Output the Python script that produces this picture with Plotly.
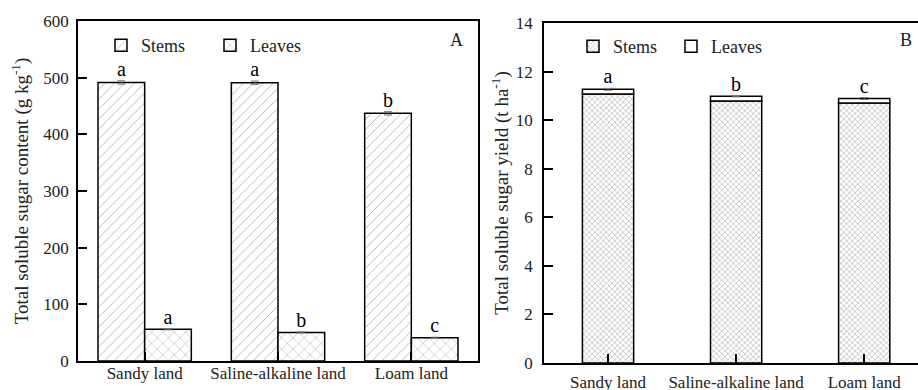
import numpy as np
import plotly.graph_objects as go

categories = ["Sandy land", "Saline-alkaline land", "Loam land"]

# Panel A: total soluble sugar content (g kg-1)
content_stems = [491.5, 491.0, 437.0]
content_stems_err = [3.0, 3.0, 3.0]
content_leaves = [56.0, 50.5, 41.0]
content_leaves_err = [1.0, 1.0, 1.0]
content_stems_letters = ["a", "a", "b"]
content_leaves_letters = ["a", "b", "c"]

# Panel B: total soluble sugar yield (t ha-1)
yield_stems = [11.08, 10.79, 10.71]
yield_leaves = [0.19, 0.19, 0.18]
yield_total_err = [0.04, 0.02, 0.04]
yield_letters = ["a", "b", "c"]

FONT = "Liberation Serif, Times New Roman, serif"
W, H = 918, 390
pos = np.arange(len(categories))
bw_a = 0.35
bw_b = 0.40
TXT = "#222"

fig = go.Figure()

# ---- Panel A ----
fig.add_trace(go.Bar(
    x=pos, y=content_stems, width=bw_a, offset=-bw_a, name="Stems",
    marker=dict(color="white", line=dict(color="black", width=1.5),
                pattern=dict(shape="/", size=7, solidity=0.12, fgcolor="#555", bgcolor="white")),
    error_y=dict(type="data", array=content_stems_err, color="#777", thickness=1, width=4),
    xaxis="x", yaxis="y", legend="legend"))
fig.add_trace(go.Bar(
    x=pos, y=content_leaves, width=bw_a, offset=0, name="Leaves",
    marker=dict(color="white", line=dict(color="black", width=1.5),
                pattern=dict(shape="x", size=8, solidity=0.12, fgcolor="#555", bgcolor="white")),
    error_y=dict(type="data", array=content_leaves_err, color="#777", thickness=1, width=4),
    xaxis="x", yaxis="y", legend="legend"))
fig.add_trace(go.Scatter(
    x=pos - bw_a / 2, y=np.array(content_stems) + np.array(content_stems_err),
    text=content_stems_letters, mode="text", textposition="top center",
    textfont=dict(family=FONT, size=20, color="black"), showlegend=False,
    xaxis="x", yaxis="y"))
fig.add_trace(go.Scatter(
    x=pos + bw_a / 2, y=np.array(content_leaves) + np.array(content_leaves_err),
    text=content_leaves_letters, mode="text", textposition="top center",
    textfont=dict(family=FONT, size=20, color="black"), showlegend=False,
    xaxis="x", yaxis="y"))

# ---- Panel B ----
fig.add_trace(go.Bar(
    x=pos, y=yield_stems, width=bw_b, name="Stems",
    marker=dict(color="white", line=dict(color="black", width=1.5),
                pattern=dict(shape="x", size=4, solidity=0.3, fgcolor="#666", bgcolor="white")),
    xaxis="x2", yaxis="y2", legend="legend2"))
fig.add_trace(go.Bar(
    x=pos, y=yield_leaves, base=yield_stems, width=bw_b, name="Leaves",
    marker=dict(color="white", line=dict(color="black", width=1.5)),
    error_y=dict(type="data", array=yield_total_err, color="#777", thickness=1, width=4),
    xaxis="x2", yaxis="y2", legend="legend2"))
tot = np.array(yield_stems) + np.array(yield_leaves) + np.array(yield_total_err)
fig.add_trace(go.Scatter(
    x=pos, y=tot, text=yield_letters, mode="text", textposition="top center",
    textfont=dict(family=FONT, size=20, color="black"), showlegend=False,
    xaxis="x2", yaxis="y2"))

axis_common = dict(showgrid=False, zeroline=False, showline=True, linecolor="black",
                   linewidth=1.5, ticks="inside", ticklen=9, tickwidth=1.5, tickcolor="black",
                   automargin=False,
                   tickfont=dict(family=FONT, size=17, color=TXT))

fig.update_layout(
    width=W, height=H, margin=dict(l=0, r=0, t=0, b=0, autoexpand=False),
    paper_bgcolor="white", plot_bgcolor="white",
    barmode="overlay",
    font=dict(family=FONT, size=17, color="black"),
    xaxis=dict(domain=[78 / W, 478 / W], range=[-0.5, 2.5], tickvals=pos, ticktext=categories,
               mirror=True, anchor="y", ticklabelstandoff=-4, **axis_common),
    yaxis=dict(domain=[(H - 361) / H, (H - 21) / H], range=[0, 600], dtick=100, mirror=True,
               anchor="x", ticklabelstandoff=4,
               title=dict(text="Total soluble sugar content (g kg<sup>-1</sup>)",
                          font=dict(family=FONT, size=19, color=TXT), standoff=10),
               **axis_common),
    xaxis2=dict(domain=[544 / W, 1.0], range=[-0.5, 2.42], tickvals=pos, ticktext=categories,
                mirror=True, anchor="y2", ticklabelstandoff=3, **axis_common),
    yaxis2=dict(domain=[(H - 363) / H, (H - 23) / H], range=[0, 14], dtick=2, mirror=False,
                anchor="x2", ticklabelstandoff=6,
                title=dict(text="Total soluble sugar yield (t ha<sup>-1</sup>)",
                           font=dict(family=FONT, size=19, color=TXT), standoff=2),
                **axis_common),
    legend=dict(orientation="h", x=101 / W, y=1 - 27 / H, xanchor="left", yanchor="top",
                bgcolor="rgba(0,0,0,0)", font=dict(family=FONT, size=18, color=TXT),
                itemwidth=30, entrywidth=64, traceorder="normal"),
    legend2=dict(orientation="h", x=573 / W, y=1 - 28 / H, xanchor="left", yanchor="top",
                 bgcolor="rgba(0,0,0,0)", font=dict(family=FONT, size=18, color=TXT),
                 itemwidth=30, entrywidth=53, traceorder="normal"),
    annotations=[
        dict(text="A", x=456 / W, y=1 - 40 / H, xref="paper", yref="paper",
             xanchor="center", yanchor="middle", showarrow=False,
             font=dict(family=FONT, size=18, color=TXT)),
        dict(text="B", x=906 / W, y=1 - 40 / H, xref="paper", yref="paper",
             xanchor="center", yanchor="middle", showarrow=False,
             font=dict(family=FONT, size=18, color=TXT)),
    ],
)

fig.write_html("out.html")
